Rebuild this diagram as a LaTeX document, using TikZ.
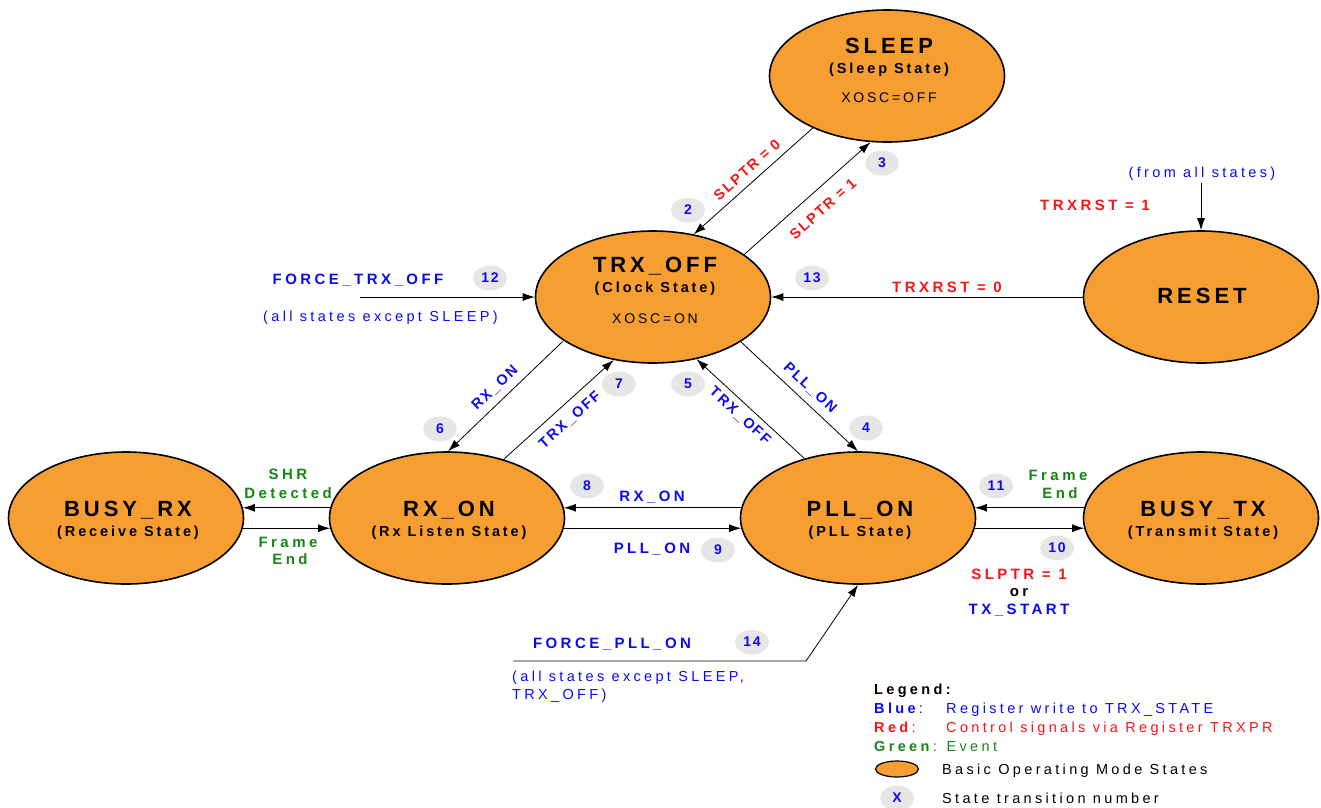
\documentclass[tikz,border=0pt]{standalone}
\usepackage{fontspec}
\setmainfont{Liberation Sans}
\newfontfamily\tsf[LetterSpace=18]{Liberation Sans}
\newfontfamily\lsf[LetterSpace=20]{Liberation Sans}
\newfontfamily\wsf[LetterSpace=23]{Liberation Sans}
\newfontfamily\dsf[LetterSpace=13]{Liberation Sans}
\usetikzlibrary{shapes.geometric,arrows.meta}
\definecolor{stateorange}{RGB}{247,158,50}
\definecolor{tblue}{RGB}{10,10,245}
\definecolor{tred}{RGB}{250,20,20}
\definecolor{tgreen}{RGB}{20,135,20}
\definecolor{badgegray}{RGB}{230,230,230}
\tikzset{
  statebox/.style={ellipse, draw=black, line width=1.6pt, fill=stateorange,
    minimum width=235pt, minimum height=132pt, inner sep=0pt},
  stitle/.style={anchor=base, inner sep=0pt, font=\tsf\bfseries\fontsize{22}{26}\selectfont},
  ssub/.style={anchor=base, inner sep=0pt, font=\lsf\bfseries\fontsize{14.5}{17}\selectfont},
  sosc/.style={anchor=base, inner sep=0pt, font=\lsf\fontsize{14}{17}\selectfont},
  nbadge/.style={ellipse, fill=badgegray, minimum width=34pt, minimum height=25pt,
    inner sep=0pt, text=tblue, font=\dsf\bfseries\fontsize{14}{17}\selectfont},
  conn/.style={line width=0.8pt, -{Latex[length=12pt,width=8pt]}},
  albl/.style={anchor=base, inner sep=0pt, font=\wsf\bfseries\fontsize{15}{17}\selectfont},
  dlbl/.style={inner sep=0pt, font=\dsf\bfseries\fontsize{14.5}{17}\selectfont},
  rtext/.style={anchor=base, inner sep=0pt, font=\wsf\fontsize{14.5}{17}\selectfont},
}
\begin{document}
\begin{tikzpicture}[x=1pt,y=-1pt]
\path[use as bounding box] (0,0) rectangle (1321,807);

% states
\node[statebox] (sleep) at (887,76) {};
\node[statebox] (trx) at (653,297) {};
\node[statebox] (reset) at (1201,297) {};
\node[statebox] (brx) at (126,518) {};
\node[statebox] (rxon) at (447,518) {};
\node[statebox] (pll) at (858,518) {};
\node[statebox] (btx) at (1201,518) {};

% state texts
\node[stitle] (sleepT) at (889,53) {SLEEP};
\node[ssub] (sleepS) at (889,73) {(Sleep State)};
\node[sosc] (sleepO) at (889,102) {XOSC=OFF};
\node[stitle] (trxT) at (655,272) {TRX\_OFF};
\node[ssub] (trxS) at (655,292) {(Clock State)};
\node[sosc] (trxO) at (655,323) {XOSC=ON};
\node[stitle] (resetT) at (1202,303) {RESET};
\node[stitle] (brxT) at (128,516) {BUSY\_RX};
\node[ssub] (brxS) at (128,536) {(Receive State)};
\node[stitle] (rxonT) at (449,516) {RX\_ON};
\node[ssub] (rxonS) at (449,536) {(Rx Listen State)};
\node[stitle] (pllT) at (860,516) {PLL\_ON};
\node[ssub] (pllS) at (860,536) {(PLL State)};
\node[stitle] (btxT) at (1203,516) {BUSY\_TX};
\node[ssub] (btxS) at (1203,536) {(Transmit State)};

% connectors
\draw[conn] (sleep.215) -- (trx.57);
\draw[conn] (trx.25) -- (sleep.256);
\draw[conn] (trx.206) -- (rxon.89);
\draw[conn] (rxon.46) -- (trx.238);
\draw[conn] (pll.132) -- (trx.305);
\draw[conn] (trx.333) -- (pll.90);
\draw[conn] (pll.175) -- (rxon.5);
\draw[conn] (rxon.-5) -- (pll.185);
\draw[conn] (rxon.175) -- (brx.5);
\draw[conn] (brx.-5) -- (rxon.185);
\draw[conn] (btx.175) -- (pll.5);
\draw[conn] (pll.-5) -- (btx.185);
\draw[conn] (reset.west) -- (trx.east);
\coordinate (ftoStart) at (360,297);
\draw[conn] (ftoStart) -- (trx.west);
\coordinate (rstStart) at (1201,183);
\draw[conn] (rstStart) -- (reset.north);
\coordinate (fpoStart) at (513,661);
\coordinate (fpoBend) at (806,661);
\draw[conn] (fpoStart) -- (fpoBend) -- (pll.south);

% badges
\node[nbadge] (b2) at (688,210) {2};
\node[nbadge] (b3) at (882,163) {3};
\node[nbadge] (b4) at (866,428) {4};
\node[nbadge] (b5) at (688,384) {5};
\node[nbadge] (b6) at (440,429) {6};
\node[nbadge] (b7) at (619,384) {7};
\node[nbadge] (b8) at (587,486) {8};
\node[nbadge] (b9) at (718,550) {9};
\node[nbadge] (b10) at (1057,548) {10};
\node[nbadge] (b11) at (996,486) {11};
\node[nbadge] (b12) at (490,278) {12};
\node[nbadge] (b13) at (812,278) {13};
\node[nbadge] (b14) at (752,642) {14};

% diagonal labels
\node[dlbl, text=tred, rotate=41.6] (l2) at (747,170) {SLPTR = 0};
\node[dlbl, text=tred, rotate=41.6] (l3) at (823,209) {SLPTR = 1};
\node[dlbl, text=tblue, rotate=44] (l6) at (495,388) {RX\_ON};
\node[dlbl, text=tblue, rotate=42] (l7) at (570,420) {TRX\_OFF};
\node[dlbl, text=tblue, rotate=-42.5] (l5) at (740,416) {TRX\_OFF};
\node[dlbl, text=tblue, rotate=-43] (l4) at (810,388) {PLL\_ON};

% horizontal labels
\node[albl, text=tblue] (l8) at (652,501) {RX\_ON};
\node[albl, text=tblue] (l9) at (652,553) {PLL\_ON};
\node[albl, text=tgreen] (lshr1) at (288,479) {SHR};
\node[albl, text=tgreen] (lshr2) at (288,498) {Detected};
\node[albl, text=tgreen] (lfe1) at (288,547) {Frame};
\node[albl, text=tgreen] (lfe2) at (290,564) {End};
\node[albl, text=tgreen] (rfe1) at (1058,480) {Frame};
\node[albl, text=tgreen] (rfe2) at (1060,498) {End};
\node[albl, text=tred] (l10a) at (1019,579) {SLPTR = 1};
\node[albl, text=black] (l10b) at (1019,596) {or};
\node[albl, text=tblue] (l10c) at (1019,614) {TX\_START};
\node[albl, text=tred] (l13) at (947,292) {TRXRST = 0};
\node[albl, text=tred] (lrst1) at (1095,210) {TRXRST = 1};
\node[rtext, text=tblue] (lrst2) at (1202,177) {(from all states)};
\node[albl, text=tblue] (l12) at (358,284) {FORCE\_TRX\_OFF};
\node[rtext, text=tblue, anchor=base west] (l12b) at (263,321) {(all states except SLEEP)};
\node[albl, text=tblue] (l14) at (612,648) {FORCE\_PLL\_ON};
\node[rtext, text=tblue, anchor=base west] (l14b) at (512,681) {(all states except SLEEP,};
\node[rtext, text=tblue, anchor=base west] (l14c) at (512,699) {TRX\_OFF)};

% legend
\node[anchor=base west, inner sep=0pt, font=\wsf\bfseries\fontsize{14.5}{17}\selectfont] (lg0) at (874,694) {Legend:};
\node[anchor=base west, inner sep=0pt, text=tblue, font=\wsf\fontsize{14.5}{17}\selectfont] (lg1) at (874,713) {\textbf{Blue}:};
\node[rtext, anchor=base west, text=tblue] (lg1t) at (946,713) {Register write to TRX\_STATE};
\node[anchor=base west, inner sep=0pt, text=tred, font=\wsf\fontsize{14.5}{17}\selectfont] (lg2) at (874,732) {\textbf{Red}:};
\node[rtext, anchor=base west, text=tred] (lg2t) at (946,732) {Control signals via Register TRXPR};
\node[anchor=base west, inner sep=0pt, text=tgreen, font=\wsf\fontsize{14.5}{17}\selectfont] (lg3) at (874,751) {\textbf{Green}: Event};
\node[ellipse, draw=black, line width=1.2pt, fill=stateorange, minimum width=43pt, minimum height=16pt, inner sep=0pt] (lgE) at (897,769) {};
\node[rtext, anchor=base west, text=black] (lgEt) at (942,774) {Basic Operating Mode States};
\node[nbadge] (lgB) at (897,798) {X};
\node[rtext, anchor=base west, text=black] (lgBt) at (942,803) {State transition number};
\end{tikzpicture}
\end{document}
